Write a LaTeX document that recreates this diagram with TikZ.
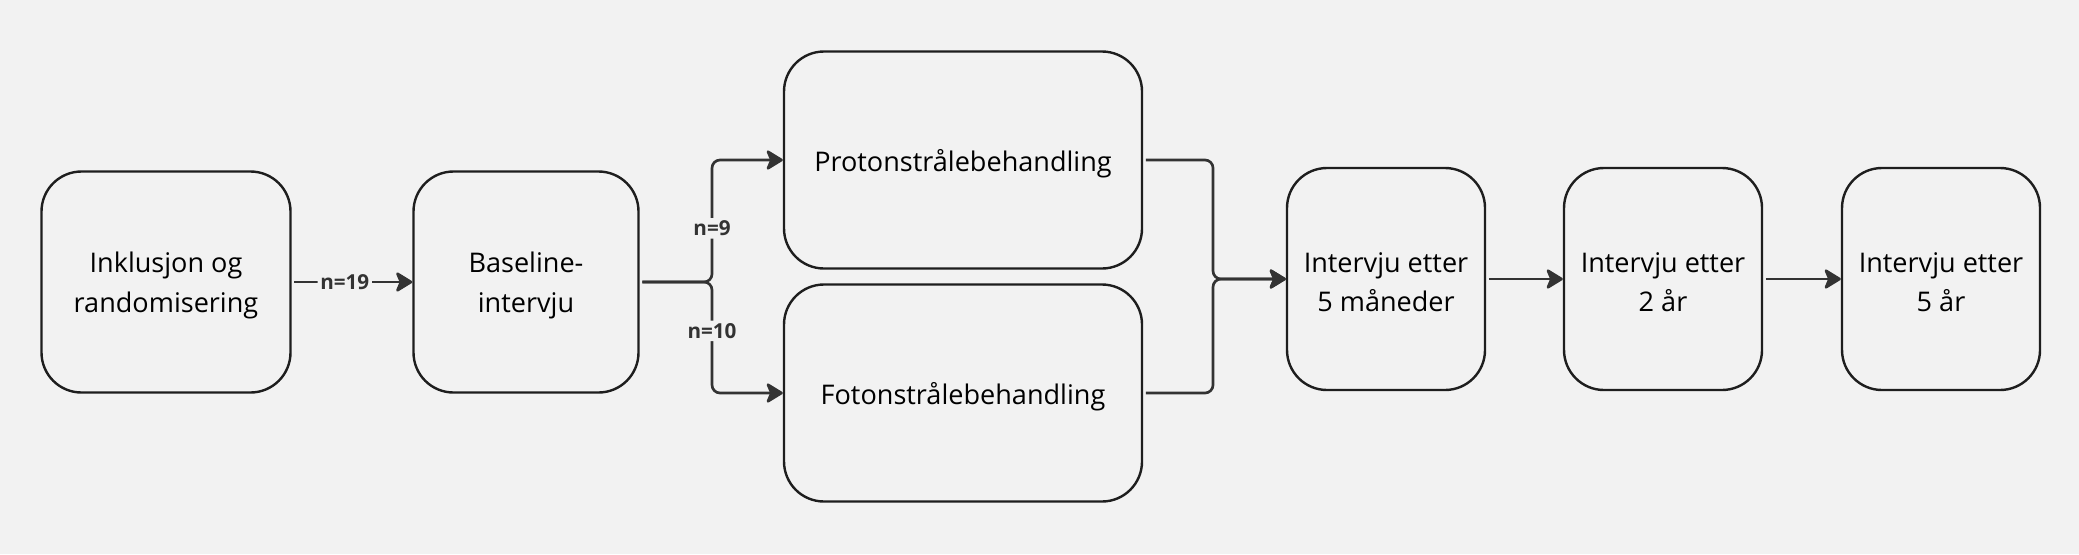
\documentclass[tikz,border=0pt]{standalone}
\usepackage{fontspec}
\setmainfont{Open Sans}
\usetikzlibrary{arrows.meta}
\definecolor{bg}{HTML}{F2F2F2}
\definecolor{edge}{HTML}{1E1E1E}
\definecolor{conncol}{HTML}{333333}
\tikzset{
  box/.style={draw=edge, line width=1.8pt, rounded corners=30pt, inner sep=0pt},
  txt/.style={align=center, font=\fontsize{20.3pt}{29.5pt}\selectfont, inner sep=0pt, yshift=-2.5pt},
  conn/.style={draw=conncol, line width=2pt, rounded corners=6pt,
    -{Stealth[length=14pt,width=17pt,inset=3.5pt,round]}},
  lbl/.style={fill=bg, font=\bfseries\fontsize{15.5pt}{17pt}\selectfont, inner sep=2pt, text=conncol}
}
\begin{document}
\begin{tikzpicture}[x=0.75pt,y=-0.75pt]
\fill[bg] (0,0) rectangle (2079,554);
\useasboundingbox (0,0) rectangle (2079,554);
\node[box, minimum width=186.75pt, minimum height=165.75pt, label={[txt]center:{Inklusjon og\\randomisering}}] (b1) at (166,282) {};
\node[box, minimum width=168.75pt, minimum height=165.75pt, label={[txt]center:{Baseline-\\intervju}}] (b2) at (526,282) {};
\node[box, minimum width=268.5pt, minimum height=162.75pt, label={[txt]center:{Protonstrålebehandling}}] (prot) at (963,160) {};
\node[box, minimum width=268.5pt, minimum height=162.75pt, label={[txt]center:{Fotonstrålebehandling}}] (foto) at (963,393) {};
\node[box, minimum width=148.5pt, minimum height=166.5pt, label={[txt]center:{Intervju etter\\5 måneder}}] (m5) at (1386,279) {};
\node[box, minimum width=148.5pt, minimum height=166.5pt, label={[txt]center:{Intervju etter\\2 år}}] (a2) at (1663,279) {};
\node[box, minimum width=148.5pt, minimum height=166.5pt, label={[txt]center:{Intervju etter\\5 år}}] (a5) at (1941,279) {};
\coordinate (split) at (712,282);
\coordinate (merge) at (1213,279);
\draw[conn, shorten <=2pt] (b1.east) -- node[lbl, pos=0.44]{n=19} (b2.west);
\draw[conn, shorten <=2pt] (b2.east) -- (split) |- node[lbl, pos=0.22]{n=9} (prot.west);
\draw[conn, shorten <=2pt] (b2.east) -- (split) |- node[lbl, pos=0.22]{n=10} (foto.west);
\draw[conn, shorten <=2pt] (prot.east) -| (merge) -- (m5.west);
\draw[conn, shorten <=2pt] (foto.east) -| (merge) -- (m5.west);
\draw[conn, shorten <=2pt] (m5.east) -- (a2.west);
\draw[conn, shorten <=2pt] (a2.east) -- (a5.west);
\end{tikzpicture}
\end{document}
